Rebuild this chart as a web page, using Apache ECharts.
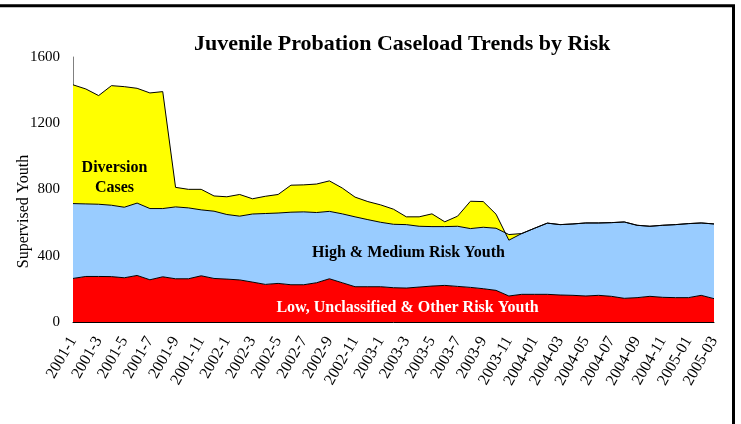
<!DOCTYPE html>
<html>
<head>
<meta charset="utf-8">
<script src="https://cdn.jsdelivr.net/npm/echarts@6/dist/echarts.min.js"></script>
<style>
html,body{margin:0;padding:0;background:#fff;}
#chart{width:741px;height:424px;}
</style>
</head>
<body>
<div id="chart"></div>
<script>
var categories = [
  '2001-1','2001-2','2001-3','2001-4','2001-5','2001-6','2001-7','2001-8','2001-9','2001-10','2001-11','2001-12',
  '2002-1','2002-2','2002-3','2002-4','2002-5','2002-6','2002-7','2002-8','2002-9','2002-10','2002-11','2002-12',
  '2003-1','2003-2','2003-3','2003-4','2003-5','2003-6','2003-7','2003-8','2003-9','2003-10','2003-11','2003-12',
  '2004-01','2004-02','2004-03','2004-04','2004-05','2004-06','2004-07','2004-08','2004-09','2004-10','2004-11','2004-12',
  '2005-01','2005-02','2005-03'
];
// Low, Unclassified & Other Risk Youth
var lowRisk = [263,275,275,274,267,281,255,273,261,261,279,263,259,254,241,227,233,225,225,237,261,237,213,213,213,207,205,211,217,221,215,209,201,191,157,167,167,167,163,161,157,161,155,143,147,155,149,147,147,161,141];
// top of High & Medium layer (cumulative)
var highMedTop = [715,713,711,705,693,718,685,685,695,689,677,669,649,639,652,655,658,663,665,661,668,653,635,618,602,590,588,578,576,576,578,564,572,566,528,534,566,597,588,592,598,598,600,604,584,578,584,588,594,598,592];
// total caseload incl. diversion (cumulative)
var totalTop = [1432,1407,1367,1427,1421,1411,1383,1391,813,801,801,761,756,770,744,759,770,826,828,833,852,809,754,727,707,681,635,635,653,605,639,729,727,651,494,534,566,597,588,592,598,598,600,604,584,578,584,588,594,598,592];
var yTicks = [0,400,800,1200,1600];

var highMed = highMedTop.map(function(v,i){ return v - lowRisk[i]; });
var diversion = totalTop.map(function(v,i){ return v - highMedTop[i]; });

var serif = 'Liberation Serif';
var chart = echarts.init(document.getElementById('chart'));
function areaSeries(name, data, color){
  return {
    name: name, type: 'line', stack: 'total', stackStrategy: 'all',
    data: data, symbol: 'none', smooth: false,
    lineStyle: {color: '#000', width: 1},
    areaStyle: {color: color, opacity: 1},
    emphasis: {disabled: true}, animation: false
  };
}
chart.setOption({
  animation: false,
  title: {
    text: 'Juvenile Probation Caseload Trends by Risk',
    left: 189, top: 28,
    textStyle: {fontFamily: serif, fontWeight: 'bold', fontSize: 22, color: '#000'}
  },
  grid: {left: 73, right: 27, top: 57, bottom: 102, outerBoundsMode: 'none', containLabel: false},
  xAxis: {
    type: 'category', data: categories, boundaryGap: false,
    axisLine: {lineStyle: {color: '#000', width: 1}},
    axisTick: {show: false},
    axisLabel: {interval: 1, rotate: 60, margin: 16, fontFamily: serif, fontSize: 16, color: '#000'}
  },
  yAxis: {
    type: 'value', min: yTicks[0], max: yTicks[yTicks.length-1], interval: 400,
    name: 'Supervised Youth', nameLocation: 'middle', nameGap: 41, nameMoveOverlap: false,
    nameTextStyle: {fontFamily: serif, fontSize: 16, color: '#000', padding: [0, 44, 0, 0]},
    axisLine: {show: true, lineStyle: {color: '#808080', width: 1}},
    axisTick: {show: false},
    splitLine: {show: false},
    axisLabel: {margin: 13, fontFamily: serif, fontSize: 15, color: '#000',
      formatter: function(v){ return String(v); }}
  },
  series: [
    areaSeries('Low, Unclassified & Other Risk Youth', lowRisk, '#FF0000'),
    areaSeries('High & Medium Risk Youth', highMed, '#99CCFF'),
    areaSeries('Diversion Cases', diversion, '#FFFF00')
  ],
  graphic: [
    {type: 'rect', silent: true, z: 100, shape: {x: -5, y: 5.8, width: 738.5, height: 440},
     style: {fill: 'none', stroke: '#000', lineWidth: 3}},
    {type: 'text', z: 100, style: {x: 114.5, y: 178, text: 'Diversion\nCases', textAlign: 'center', textVerticalAlign: 'middle',
      font: 'bold 16px "Liberation Serif"', fill: '#000', lineHeight: 20}},
    {type: 'text', z: 100, style: {x: 408.5, y: 253, text: 'High & Medium Risk Youth', textAlign: 'center', textVerticalAlign: 'middle',
      font: 'bold 16px "Liberation Serif"', fill: '#000'}},
    {type: 'text', z: 100, style: {x: 407.5, y: 308, text: 'Low, Unclassified & Other Risk Youth', textAlign: 'center', textVerticalAlign: 'middle',
      font: 'bold 16px "Liberation Serif"', fill: '#fff'}}
  ]
});
</script>
</body>
</html>
